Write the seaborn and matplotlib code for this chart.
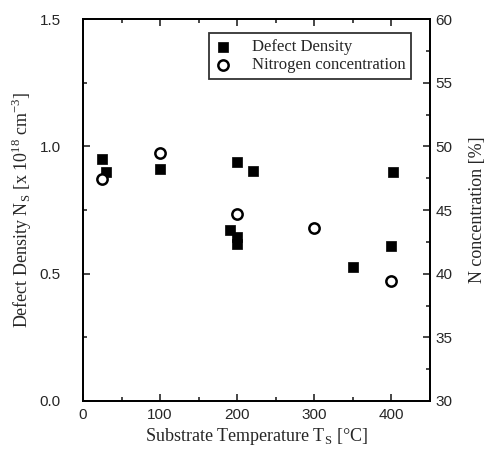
import numpy as np
import pandas as pd
import seaborn as sns
import matplotlib.pyplot as plt
from matplotlib.ticker import MultipleLocator

# Data
defect_temp = [25, 30, 100, 200, 220, 190, 200, 200, 350, 402, 400]
defect_density = [0.95, 0.90, 0.91, 0.94, 0.905, 0.67, 0.645, 0.615, 0.525, 0.90, 0.61]

nitrogen_temp = [25, 100, 200, 300, 400]
nitrogen_conc = [47.4, 49.5, 44.7, 43.6, 39.4]

sns.set_style("ticks")
plt.rcParams['font.family'] = ['Liberation Sans', 'DejaVu Sans']
plt.rcParams['xtick.direction'] = 'in'
plt.rcParams['ytick.direction'] = 'in'

serif = ['Liberation Serif', 'DejaVu Serif']

df_d = pd.DataFrame({'T': defect_temp, 'N': defect_density})
df_n = pd.DataFrame({'T': nitrogen_temp, 'C': nitrogen_conc})

fig = plt.figure(figsize=(4.9, 4.53), dpi=100)
ax = fig.add_axes([0.1694, 0.1148, 0.7082, 0.8432])
ax2 = ax.twinx()

sns.scatterplot(data=df_d, x='T', y='N', ax=ax, marker='s', s=62,
                color='black', edgecolor='black', linewidth=0.5,
                label='Defect Density', legend=False, zorder=3)
sns.scatterplot(data=df_n, x='T', y='C', ax=ax2, marker='o', s=55,
                facecolor='white', edgecolor='black', linewidth=1.8,
                label='Nitrogen concentration', legend=False, zorder=3)

ax.set_xlim(0, 450)
ax.set_ylim(0, 1.5)
ax2.set_ylim(30, 60)

ax.xaxis.set_major_locator(MultipleLocator(100))
ax.xaxis.set_minor_locator(MultipleLocator(50))
ax.yaxis.set_major_locator(MultipleLocator(0.5))
ax.yaxis.set_minor_locator(MultipleLocator(0.25))
ax2.yaxis.set_major_locator(MultipleLocator(5))
ax2.yaxis.set_minor_locator(MultipleLocator(2.5))

ax.tick_params(which='both', top=True, direction='in', labelsize=11, width=1.2)
ax.tick_params(which='major', length=5)
ax.tick_params(which='minor', length=3)
ax.tick_params(axis='y', pad=16)
ax.tick_params(axis='x', pad=5)
ax2.tick_params(which='both', direction='in', labelsize=11, width=1.2, pad=4)
ax2.tick_params(which='major', length=5)
ax2.tick_params(which='minor', length=3)

for a in (ax, ax2):
    for sp in a.spines.values():
        sp.set_linewidth(1.3)
        sp.set_color('black')

ax.set_xlabel('Substrate Temperature T$_\\mathregular{S}$ [°C]', family=serif, fontsize=13,
              labelpad=3)
ax.set_ylabel('Defect Density N$_\\mathregular{S}$ [x 10$^\\mathregular{18}$ cm$^\\mathregular{-3}$]',
              family=serif, fontsize=13, labelpad=4)
ax2.set_ylabel('N concentration [%]', family=serif, fontsize=13, labelpad=12)

h1, l1 = ax.get_legend_handles_labels()
h2, l2 = ax2.get_legend_handles_labels()
leg = ax2.legend(h1 + h2, l1 + l2, loc='upper right', bbox_to_anchor=(0.97, 0.985),
                 frameon=True, fancybox=False, edgecolor='black',
                 prop={'family': serif, 'size': 12}, handletextpad=1.2,
                 borderpad=0.35, labelspacing=0.15, handlelength=1.0)
leg.get_frame().set_linewidth(1.3)

fig.savefig('out.png', dpi=100)
